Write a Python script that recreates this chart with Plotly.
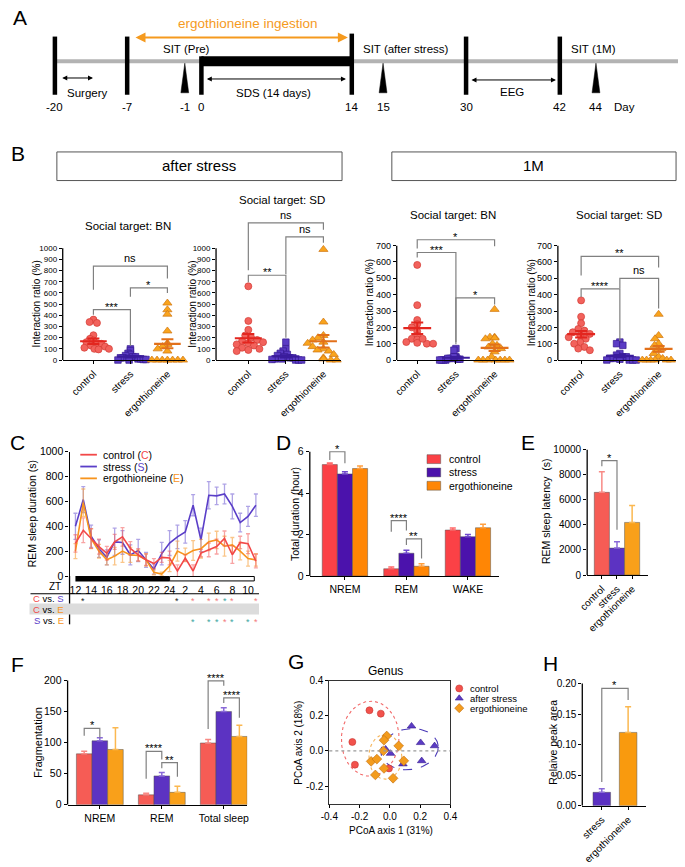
import numpy as np
import plotly.graph_objects as go

W, H = 685, 867
FONT = "Liberation Sans, Arial, Helvetica, sans-serif"

# ============================ DATA ============================
groups = ["control", "stress", "ergothioneine"]

# ---- Panel A: timeline ----
timeline_days = ["-20", "-7", "-1", "0", "14", "15", "30", "42", "44"]

# ---- Panel B: interaction ratio (%) per animal ----
b1_control = [362, 340, 332, 222, 190, 175, 160, 150, 145, 130, 120, 110, 100, 100, 95]
b1_stress = [100, 85, 60, 50, 40, 30, 30, 20, 20, 10, 10, 5, 5, 0, 0]
b1_ergo = [510, 450, 410, 260, 150, 140, 120, 100, 80, 0, 0, 0, 0, 0, 0, 0]
b1_mean = [168, 30, 145]
b1_sem = [25, 8, 40]

b2_control = [660, 350, 270, 220, 200, 180, 170, 160, 150, 140, 130, 110, 100, 90, 80]
b2_stress = [160, 100, 80, 60, 50, 40, 30, 20, 20, 10, 10, 5, 0, 0, 0]
b2_ergo = [990, 340, 220, 200, 180, 160, 150, 120, 100, 90, 80, 50, 20, 10, 0, 0]
b2_mean = [195, 32, 168]
b2_sem = [38, 10, 55]

b3_control = [582, 336, 245, 220, 200, 175, 150, 130, 125, 110, 105, 100, 100, 130]
b3_stress = [70, 60, 20, 15, 10, 10, 5, 5, 0, 0, 0, 0, 20, 10]
b3_ergo = [310, 140, 140, 135, 130, 100, 90, 80, 70, 50, 20, 0, 0, 0, 0, 0, 0, 0]
b3_mean = [195, 14, 75]
b3_sem = [35, 5, 20]

b4_control = [365, 265, 225, 190, 180, 170, 160, 150, 140, 130, 110, 100, 80, 70, 60]
b4_stress = [110, 100, 90, 40, 30, 20, 20, 10, 10, 5, 0, 0, 0, 0]
b4_ergo = [280, 150, 130, 100, 90, 70, 60, 40, 20, 10, 0, 0, 0, 0, 0, 0]
b4_mean = [158, 25, 68]
b4_sem = [20, 8, 18]

# significance brackets: (group i, group j, top, leg i end, leg j end, label)
b1_sig = [(0, 2, 841, 630, 729, "ns"), (1, 2, 646, 566, 600, "*"), (0, 1, 451, 405, 126, "***")]
b2_sig = [(0, 2, 1227, 803, 1165, "ns"), (1, 2, 1103, 768, 1050, "ns"), (0, 1, 759, 697, 200, "**")]
b3_sig = [(0, 2, 736, 682, 696, "*"), (0, 1, 658, 627, 97, "***"), (1, 2, 380, 110, 340, "*")]
b4_sig = [(0, 2, 634, 518, 567, "**"), (1, 2, 500, 440, 316, "ns"), (0, 1, 435, 386, 116, "****")]

# ---- Panel C: REM sleep duration (s) per hour ----
zt = [12, 13, 14, 15, 16, 17, 18, 19, 20, 21, 22, 23, 24, 25, 26, 27, 28, 29, 30, 31, 32, 33, 34, 35]
zt_tickvals = [12, 14, 16, 18, 20, 22, 24, 26, 28, 30, 32, 34]
zt_ticktext = ["12", "14", "16", "18", "20", "22", "24", "2", "4", "6", "8", "10"]
c_control = [262, 368, 302, 236, 183, 275, 315, 222, 171, 131, 100, 150, 145, 40, 145, 40, 185, 210, 237, 302, 171, 270, 260, 120]
c_control_sem = [70, 100, 80, 60, 55, 60, 75, 55, 50, 45, 40, 40, 55, 50, 25, 50, 30, 55, 60, 60, 70, 50, 80, 55]
c_stress = [400, 615, 320, 220, 150, 275, 270, 170, 205, 130, 55, 180, 265, 315, 355, 570, 290, 650, 645, 660, 560, 430, 480, 570]
c_stress_sem = [105, 105, 90, 70, 60, 110, 95, 80, 90, 60, 40, 90, 100, 95, 90, 85, 95, 110, 70, 80, 100, 75, 80, 90]
c_ergo = [200, 590, 300, 200, 130, 160, 200, 170, 165, 130, 30, 15, 80, 200, 170, 205, 220, 275, 290, 240, 250, 200, 140, 130]
c_ergo_sem = [60, 110, 80, 55, 40, 70, 90, 60, 45, 50, 20, 15, 45, 80, 55, 80, 75, 70, 70, 80, 60, 70, 60, 50]
cs_sig_zt = [13, 25, 27, 29, 30, 31, 32, 35]
cs_sig_kind = ["k", "k", "r", "r", "r", "t", "r", "r"]
se_sig_zt = [27, 29, 30, 31, 32, 34, 35]
se_sig_kind = ["t", "t", "t", "r", "t", "t", "r"]

# ---- Panel D: total duration (hour) ----
d_categories = ["NREM", "REM", "WAKE"]
d_control = [5.38, 0.35, 2.22]
d_control_err = [0.08, 0.08, 0.10]
d_stress = [4.93, 1.10, 1.90]
d_stress_err = [0.10, 0.14, 0.10]
d_ergo = [5.19, 0.47, 2.33]
d_ergo_err = [0.12, 0.12, 0.17]
d_sig = [(0, 0, 1, 6.0, 5.6, 5.44, "*"), (1, 0, 1, 2.67, 2.14, 2.2, "****"), (1, 1, 2, 1.79, 1.5, 0.85, "**")]

# ---- Panel E: REM sleep latency (s) ----
e_latency = [6600, 2150, 4200]
e_err = [1650, 500, 1350]
e_sig = [(0, 1, 9134, 8690, 3620, "*")]

# ---- Panel F: fragmentation ----
f_categories = ["NREM", "REM", "Total sleep"]
f_control = [82, 16, 99.5]
f_control_err = [4, 2.5, 5.5]
f_stress = [103, 46.5, 150]
f_stress_err = [5, 5.5, 6]
f_ergo = [89, 20, 110]
f_ergo_err = [35, 10, 18]
f_sig = [(0, 0, 1, 123, 111, 108, "*"), (1, 0, 1, 86, 42, 73, "****"), (1, 1, 2, 68, 59, 45, "**"),
         (2, 0, 1, 199.5, 122, 191.5, "****"), (2, 1, 2, 172, 164, 140, "****")]

# ---- Panel G: PCoA (genus) ----
g_control_x = [-0.135, -0.06, -0.248, -0.231, -0.006]
g_control_y = [0.231, 0.212, 0.051, -0.078, -0.099]
g_stress_x = [0.143, 0.203, 0.295, 0.21, -0.028, 0.004, 0.086]
g_stress_y = [0.141, 0.047, 0.029, -0.056, 0.01, -0.014, -0.074]
g_ergo_x = [-0.021, -0.039, 0.058, -0.043, -0.124, -0.086, 0.092, -0.039, -0.096, 0.021]
g_ergo_y = [0.085, 0.061, 0.029, 0.001, -0.059, -0.046, -0.056, -0.099, -0.136, -0.155]
g_ell_cx = [-0.13, 0.13, -0.03]
g_ell_cy = [0.07, 0.01, -0.033]
g_ell_rx = [0.19, 0.19, 0.109]
g_ell_ry = [0.213, 0.116, 0.127]
g_ell_angle = [-0.1, 0.1, 0.0]
g_legend = ["control", "after stress", "ergothioneine"]

# ---- Panel H: relative peak area ----
h_groups = ["stress", "ergothioneine"]
h_area = [0.022, 0.12]
h_err = [0.006, 0.042]
h_sig = [(0, 1, 0.192, 0.039, 0.173, "*")]

# ============================ HELPERS ============================
fig = go.Figure()
shapes, annotations, axes = [], [], {}


def dom_x(l, r):
    return [max(0.0, l / W), min(1.0, r / W)]


def dom_y(t, b):
    return [max(0.0, 1 - b / H), min(1.0, 1 - t / H)]


def add_axes(n, xl, xr, yt, yb, xrange, yrange, xkw=None, ykw=None):
    sx = "" if n == 1 else str(n)
    base = dict(showgrid=False, zeroline=False, fixedrange=True, type="linear",
                linecolor="black", linewidth=1.3, tickcolor="black", tickwidth=1.2,
                tickfont=dict(family=FONT, size=10, color="black"))
    xa = dict(base)
    xa.update(domain=dom_x(xl, xr), range=xrange, anchor="y" + sx)
    ya = dict(base)
    ya.update(domain=dom_y(yt, yb), range=yrange, anchor="x" + sx)
    if xkw:
        xa.update(xkw)
    if ykw:
        ya.update(ykw)
    axes["xaxis" + sx] = xa
    axes["yaxis" + sx] = ya
    return "x" + sx, "y" + sx


def txt(x, y, s, size=10, color="black", xanchor="center", yanchor="middle", angle=0,
        xref="x", yref="y", yshift=0):
    annotations.append(dict(x=x, y=y, xref=xref, yref=yref, text=s, showarrow=False,
                            font=dict(family=FONT, size=size, color=color),
                            xanchor=xanchor, yanchor=yanchor, textangle=angle,
                            yshift=yshift, borderpad=0))


def line(x0, y0, x1, y1, color="black", width=1.0, xref="x", yref="y", dash="solid"):
    shapes.append(dict(type="line", x0=x0, y0=y0, x1=x1, y1=y1, xref=xref, yref=yref,
                       line=dict(color=color, width=width, dash=dash)))


def rect(x0, y0, x1, y1, fill, lcolor=None, lwidth=0, xref="x", yref="y"):
    shapes.append(dict(type="rect", x0=x0, y0=y0, x1=x1, y1=y1, xref=xref, yref=yref,
                       fillcolor=fill, line=dict(color=lcolor or fill, width=lwidth)))


def spine(xid, yid, ymax):
    shapes.append(dict(type="line", xref=xid + " domain", yref=yid, x0=0, x1=0, y0=0, y1=ymax,
                       line=dict(color="black", width=1.3)))


def bracket(xid, yid, x0, x1, ytop, yl0, yl1, label, size=11):
    shapes.append(dict(type="path", xref=xid, yref=yid,
                       path=f"M{x0},{yl0} L{x0},{ytop} L{x1},{ytop} L{x1},{yl1}",
                       line=dict(color="#808080", width=1.2)))
    star = label.startswith("*")
    txt((x0 + x1) / 2, ytop, label, size=size, xref=xid, yref=yid, yanchor="bottom",
        yshift=-4 if star else 1)


def swarm_offsets(values, ppu, ppc, d, limit):
    vals = np.asarray(values, float)
    order = np.argsort(-vals, kind="stable")
    placed = []
    xs = np.zeros(len(vals))
    for i in order:
        y = vals[i] * ppu
        cands = [0.0]
        for (px, py) in placed:
            dy = abs(py - y)
            if dy < d:
                dx = np.sqrt(d * d - dy * dy)
                cands += [px + dx, px - dx]
        cands = sorted(set(np.round(cands, 5)), key=lambda c: (abs(c), c))
        for c in cands:
            if all((c - px) ** 2 + (y - py) ** 2 >= d * d - 1e-6 for px, py in placed):
                xs[i] = c
                break
        placed.append((xs[i], y))
    xs = xs / ppc
    m = np.max(np.abs(xs)) if len(xs) else 0
    if m > limit:
        xs = xs * limit / m
    return xs


TICKF = lambda s: dict(family=FONT, size=s, color="black")

# overlay axis in pixel coordinates (used for panel A and labels)
add_axes(1, 0, W, 0, H, [0, W], [H, 0], xkw=dict(visible=False), ykw=dict(visible=False))

# ============================ PANEL A ============================
DAY_X = [47, 121, 180, 197, 351, 383, 468, 564, 601]
line(48, 56, 685, 56, color="#b3b3b3", width=4)
rect(197, 51, 351, 61, "black")
for xb, (ya, yb) in zip([47, 121, 197, 351, 468, 564],
                         [(31, 90), (31, 90), (51, 90), (28, 90), (31, 90), (31, 90)]):
    line(xb, ya, xb, yb, width=4.5)
for k in (2, 5, 8):
    xt = DAY_X[k]
    shapes.append(dict(type="path", xref="x", yref="y",
                       path=f"M{xt - 4},88 L{xt},58 L{xt + 4},88 Z",
                       fillcolor="black", line=dict(color="black", width=0.5)))


def darrow(x0, x1, y, color="black", width=1.0, head=2, size=1.0):
    annotations.append(dict(x=x1, y=y, ax=x0, ay=y, xref="x", yref="y", axref="x", ayref="y",
                            text="", showarrow=True, arrowside="end+start", arrowhead=head,
                            arrowsize=size, arrowwidth=width, arrowcolor=color,
                            standoff=0, startstandoff=0))


darrow(128, 347, 32, color="#f59a1e", width=2, head=2, size=1.0)
darrow(53, 86, 73)
darrow(201, 345, 74)
darrow(472, 560, 75)
txt(245, 18, "ergothioneine ingestion", size=13.5, color="#f59a1e")
txt(182, 44, "SIT (Pre)", size=11.5)
txt(406, 44, "SIT (after stress)", size=11.5)
txt(598, 44, "SIT (1M)", size=11.5)
txt(80, 88, "Surgery", size=11.5)
txt(271, 88, "SDS (14 days)", size=11.5)
txt(515, 87, "EEG", size=11.5)
for lab, xd in zip(timeline_days, DAY_X):
    txt(xd, 102, lab, size=11.5)
txt(630, 102, "Day", size=11.5)

# panel letters
for letter, (lx, ly) in zip("ABCDEFGH", [(11, 12), (9, 150), (9, 443), (281, 443), (531, 443),
                                          (9, 668), (294, 665), (554, 667)]):
    txt(lx, ly, letter, size=21)

# ============================ PANEL B ============================
rect(49, 148, 341, 177, "rgba(0,0,0,0)", lcolor="#555555", lwidth=1)
rect(392, 148, 683, 177, "rgba(0,0,0,0)", lcolor="#555555", lwidth=1)
txt(195, 162, "after stress", size=15)
txt(537, 162, "1M", size=15)

MK = [dict(symbol="circle", size=7, color="#f2625c", line=dict(color="#d23b34", width=0.7)),
      dict(symbol="square", size=6.5, color="#5b3cc4", line=dict(color="#35198f", width=0.7)),
      dict(symbol="triangle-up", size=8, color="#f9a41d", line=dict(color="#cf7612", width=0.7))]
MEANC = ["#e3261f", "#3b1c9c", "#e2701a"]


def b_panel(n, xl, xr, y0px, ppu, xrange, ytop, tickmax, vals, means, sems, sig, title, tpos,
            ytitle_x, tfont):
    yt = y0px - ytop * ppu
    xid, yid = add_axes(n, xl, xr, yt, y0px, xrange, [0, ytop],
                        xkw=dict(showline=True, ticks="outside", ticklen=3, tickvals=[0, 1, 2],
                                 ticktext=groups, tickangle=-45, tickfont=TICKF(10)),
                        ykw=dict(showline=False, ticks="outside", ticklen=3,
                                 tickvals=list(range(0, tickmax + 1, 100)), tickfont=TICKF(tfont)))
    spine(xid, yid, tickmax)
    ppc = (xr - xl) / (xrange[1] - xrange[0])
    for k in range(3):
        off = swarm_offsets(vals[k], ppu, ppc, 6.5, 0.42)
        fig.add_trace(go.Scatter(x=[k + o for o in off], y=vals[k], mode="markers", marker=MK[k],
                                 cliponaxis=False, xaxis=xid, yaxis=yid, showlegend=False,
                                 hoverinfo="skip"))
    for k in range(3):
        fig.add_trace(go.Scatter(x=[k], y=[means[k]], mode="markers",
                                 marker=dict(size=1, color="rgba(0,0,0,0)"),
                                 error_x=dict(type="constant", value=0.36, color=MEANC[k],
                                              thickness=2.2, width=0),
                                 error_y=dict(type="constant", value=sems[k], color=MEANC[k],
                                              thickness=2, width=6),
                                 cliponaxis=False, xaxis=xid, yaxis=yid, showlegend=False,
                                 hoverinfo="skip"))
    for (i, j, top, l0, l1, lab) in sig:
        bracket(xid, yid, i, j, top, l0, l1, lab)
    txt(tpos[0], tpos[1], title, size=11.5)
    txt(ytitle_x, y0px - tickmax * ppu / 2, "Interaction ratio (%)", size=10, angle=-90)


b_panel(2, 55, 180, 359, 0.1133, [-0.83, 2.47], 1050, 1000,
        [b1_control, b1_stress, b1_ergo], b1_mean, b1_sem, b1_sig, "Social target: BN", (122, 223), 28, 8)
b_panel(3, 212, 340, 359, 0.1133, [-0.86, 2.47], 1330, 1000,
        [b2_control, b2_stress, b2_ergo], b2_mean, b2_sem, b2_sig, "Social target: SD", (280, 197), 188, 8)
b_panel(4, 397, 517, 359, 0.1657, [-0.53, 2.5], 790, 700,
        [b3_control, b3_stress, b3_ergo], b3_mean, b3_sem, b3_sig, "Social target: BN", (455, 212), 369, 9)
b_panel(5, 562, 683, 359, 0.1657, [-0.6, 2.45], 720, 700,
        [b4_control, b4_stress, b4_ergo], b4_mean, b4_sem, b4_sig, "Social target: SD", (625, 212), 535, 9)

# ============================ PANEL C ============================
xc, yc = add_axes(6, 62, 256, 452, 578, [11.25, 35.4], [0, 1000],
                  xkw=dict(showline=False, ticks="", tickvals=zt_tickvals, ticktext=zt_ticktext,
                           tickfont=TICKF(10.5), ticklabelstandoff=6),
                  ykw=dict(showline=True, ticks="outside", ticklen=3,
                           tickvals=[0, 200, 400, 600, 800, 1000], tickfont=TICKF(10.5)))
CC = {"control": "#f24848", "stress": "#5a3ec8", "ergo": "#f7941d"}
CE = {"control": "rgba(242,90,90,0.55)", "stress": "rgba(110,90,210,0.55)", "ergo": "rgba(247,160,60,0.6)"}
for key, v, e in [("stress", c_stress, c_stress_sem), ("ergo", c_ergo, c_ergo_sem),
                  ("control", c_control, c_control_sem)]:
    fig.add_trace(go.Scatter(x=zt, y=v, mode="lines", line=dict(color=CC[key], width=1.6),
                             error_y=dict(type="data", array=e, color=CE[key], thickness=1.3, width=2),
                             xaxis=xc, yaxis=yc, showlegend=False, hoverinfo="skip", cliponaxis=False))
# light/dark bar
rect(12, 578, 24, 583.5, "black", xref=xc, yref="y")
rect(24, 578.5, 34.8, 583, "white", lcolor="black", lwidth=1, xref=xc, yref="y")
txt(23, 515, "REM sleep duration (s)", size=10.5, angle=-90)
# legend
for k, (key, lab) in enumerate([("control", "control (<span style='color:#f24848'>C</span>)"),
                                ("stress", "stress (<span style='color:#5a3ec8'>S</span>)"),
                                ("ergo", "ergothioneine (<span style='color:#f7941d'>E</span>)")]):
    line(73, 455 + 12 * k, 90, 455 + 12 * k, color=CC[key], width=1.8)
    txt(95, 455 + 12 * k, lab, size=10.5, xanchor="left")
# table
line(62, 578, 62, 627, width=1.3)
line(22, 596, 256, 596, width=1)
rect(21, 606, 256, 617, "#dcdcdc")
txt(47, 589, "ZT", size=10)
txt(57, 601, "<span style='color:#f24848'>C</span> vs. <span style='color:#5a3ec8'>S</span>", size=9.5, xanchor="right")
txt(57, 612, "<span style='color:#f24848'>C</span> vs. <span style='color:#f7941d'>E</span>", size=9.5, xanchor="right")
txt(57, 623, "<span style='color:#5a3ec8'>S</span> vs. <span style='color:#f7941d'>E</span>", size=9.5, xanchor="right")
STARC = {"k": "#222222", "r": "#f37a7a", "t": "#3aa6a0"}
for zz, kk in zip(cs_sig_zt, cs_sig_kind):
    txt(zz, 603, "*", size=9, color=STARC[kk], xref=xc, yref="y")
for zz, kk in zip(se_sig_zt, se_sig_kind):
    txt(zz, 625, "*", size=9, color=STARC[kk], xref=xc, yref="y")

# ============================ PANEL D ============================
DC = ["#fb4146", "#4b12ac", "#ff8605"]
DEC = ["#ff6a6a", "#7048cc", "#ffa040"]
bw_d = 0.246
xd, yd = add_axes(7, 308, 502, 578 - 6.5 * 21, 578, [-0.571, 2.51], [0, 6.5],
                  xkw=dict(showline=True, ticks="outside", ticklen=3, tickvals=[0, 1, 2],
                           ticktext=d_categories, tickfont=TICKF(10.5)),
                  ykw=dict(showline=False, ticks="outside", ticklen=3, tickvals=[0, 2, 4, 6],
                           tickfont=TICKF(10.5)))
spine(xd, yd, 6)
for k, (v, e) in enumerate([(d_control, d_control_err), (d_stress, d_stress_err), (d_ergo, d_ergo_err)]):
    fig.add_trace(go.Bar(x=[i + (k - 1) * bw_d for i in range(3)], y=v, width=bw_d,
                         marker=dict(color=DC[k], line=dict(color="rgba(80,80,80,0.6)", width=0.8)),
                         error_y=dict(type="data", array=e, arrayminus=[0, 0, 0], symmetric=False,
                                      color=DEC[k], thickness=1.5, width=3),
                         xaxis=xd, yaxis=yd, showlegend=False, hoverinfo="skip"))
for (g, i, j, top, l0, l1, lab) in d_sig:
    bracket(xd, yd, g + (i - 1) * bw_d, g + (j - 1) * bw_d, top, l0, l1, lab)
txt(293, 515, "Total duration (hour)", size=10.5, angle=-90)
for k, lab in enumerate(groups):
    rect(428, 455 + 13.5 * k, 442, 464 + 13.5 * k, DC[k], lcolor="rgba(80,80,80,0.6)", lwidth=0.8)
    txt(449, 459.5 + 13.5 * k, lab, size=10.5, xanchor="left")

# ============================ PANEL E ============================
EC = ["#f65c55", "#5c33c2", "#f9a01a"]
EEC = ["#f88a85", "#8a6ad8", "#fbb850"]
xe, ye = add_axes(8, 592, 654, 577 - 10300 * 0.0127, 577, [-0.97, 3.03], [0, 10300],
                  xkw=dict(showline=True, ticks="outside", ticklen=3, tickvals=[0, 1, 2],
                           ticktext=groups, tickangle=-45, tickfont=TICKF(10)),
                  ykw=dict(showline=False, ticks="outside", ticklen=3,
                           tickvals=[0, 2000, 4000, 6000, 8000, 10000],
                           ticktext=["0", "2000", "4000", "6000", "8000", "10000"], tickfont=TICKF(10)))
spine(xe, ye, 10000)
for k in range(3):
    fig.add_trace(go.Bar(x=[k], y=[e_latency[k]], width=1.0,
                         marker=dict(color=EC[k], line=dict(color="rgba(80,80,80,0.6)", width=0.8)),
                         error_y=dict(type="data", array=[e_err[k]], arrayminus=[0], symmetric=False,
                                      color=EEC[k], thickness=1.5, width=3),
                         xaxis=xe, yaxis=ye, showlegend=False, hoverinfo="skip"))
for (i, j, top, l0, l1, lab) in e_sig:
    bracket(xe, ye, i, j, top, l0, l1, lab)
txt(550, 512, "REM sleep latency  (s)", size=10.5, angle=-90)

# ============================ PANEL F ============================
bw_f = 0.252
xf, yf = add_axes(9, 60, 244, 810 - 215 * 0.63, 810, [-0.52, 2.38], [0, 215],
                  xkw=dict(showline=True, ticks="outside", ticklen=3, tickvals=[0, 1, 2],
                           ticktext=f_categories, tickfont=TICKF(10.5)),
                  ykw=dict(showline=False, ticks="outside", ticklen=3,
                           tickvals=[0, 50, 100, 150, 200], tickfont=TICKF(10.5)))
spine(xf, yf, 200)
for k, (v, e) in enumerate([(f_control, f_control_err), (f_stress, f_stress_err), (f_ergo, f_ergo_err)]):
    fig.add_trace(go.Bar(x=[i + (k - 1) * bw_f for i in range(3)], y=v, width=bw_f,
                         marker=dict(color=EC[k], line=dict(color="rgba(80,80,80,0.6)", width=0.8)),
                         error_y=dict(type="data", array=e, arrayminus=[0, 0, 0], symmetric=False,
                                      color=EEC[k], thickness=1.5, width=3),
                         xaxis=xf, yaxis=yf, showlegend=False, hoverinfo="skip"))
for (g, i, j, top, l0, l1, lab) in f_sig:
    bracket(xf, yf, g + (i - 1) * bw_f, g + (j - 1) * bw_f, top, l0, l1, lab)
txt(29, 747, "Fragmentation", size=11, angle=-90)

# ============================ PANEL G ============================
xg, yg = add_axes(10, 328, 452, 684, 809, [-0.4, 0.4], [-0.3, 0.4],
                  xkw=dict(showline=True, mirror=True, linewidth=1, linecolor="#333333",
                           ticks="outside", ticklen=3, tickvals=[-0.4, -0.2, 0, 0.2, 0.4],
                           ticktext=["-0.4", "-0.2", "0.0", "0.2", "0.4"], tickfont=TICKF(10)),
                  ykw=dict(showline=True, mirror=True, linewidth=1, linecolor="#333333",
                           ticks="outside", ticklen=3, tickvals=[-0.2, 0, 0.2, 0.4],
                           ticktext=["-0.2", "0.0", "0.2", "0.4"], tickfont=TICKF(10)))
shapes.append(dict(type="line", xref=xg + " domain", yref=yg, x0=0, x1=1, y0=0, y1=0,
                   line=dict(color="#9a9a9a", width=1.2, dash="dot")))
GC = ["#f2524c", "#5b3cc4", "#f39c1e"]
GL = ["#c83530", "#35198f", "#c06d10"]
ELL_DASH = ["dot", "dash", "dot"]
ELL_C = ["#f26a6a", "#4b3ab8", "#f5b45a"]
tt = np.linspace(0, 2 * np.pi, 120)
for k in range(3):
    ex = g_ell_rx[k] * np.cos(tt)
    ey = g_ell_ry[k] * np.sin(tt)
    a = g_ell_angle[k]
    fig.add_trace(go.Scatter(x=g_ell_cx[k] + ex * np.cos(a) - ey * np.sin(a),
                             y=g_ell_cy[k] + ex * np.sin(a) + ey * np.cos(a), mode="lines",
                             line=dict(color=ELL_C[k], width=1.1, dash=ELL_DASH[k]),
                             xaxis=xg, yaxis=yg, showlegend=False, hoverinfo="skip"))
GSYM = ["circle", "triangle-up", "diamond"]
for k, (gx, gy) in enumerate([(g_control_x, g_control_y), (g_stress_x, g_stress_y), (g_ergo_x, g_ergo_y)]):
    fig.add_trace(go.Scatter(x=gx, y=gy, mode="markers",
                             marker=dict(symbol=GSYM[k], size=7.5 if k else 7, color=GC[k],
                                         line=dict(color=GL[k], width=0.6)),
                             xaxis=xg, yaxis=yg, showlegend=False, hoverinfo="skip"))
txt(386, 674, "Genus", size=12)
txt(391, 836, "PCoA axis 1 (31%)", size=10)
txt(297, 747, "PCoA axis 2 (18%)", size=10, angle=-90)
for k, lab in enumerate(g_legend):
    fig.add_trace(go.Scatter(x=[461], y=[692 + 10 * k], mode="markers",
                             marker=dict(symbol=GSYM[k], size=7, color=GC[k],
                                         line=dict(color=GL[k], width=0.6)),
                             xaxis="x", yaxis="y", showlegend=False, hoverinfo="skip"))
    txt(471, 692 + 10 * k, lab, size=9.5, xanchor="left")

# ============================ PANEL H ============================
HC = ["#5b30c2", "#f99a0e"]
HEC = ["#8a6ad8", "#fbb850"]
xh, yh = add_axes(11, 587, 652, 811 - 0.21 * 620, 811, [-0.74, 1.67], [0, 0.21],
                  xkw=dict(showline=True, ticks="outside", ticklen=3, tickvals=[0, 1],
                           ticktext=h_groups, tickangle=-45, tickfont=TICKF(10)),
                  ykw=dict(showline=False, ticks="outside", ticklen=3,
                           tickvals=[0, 0.05, 0.1, 0.15, 0.2],
                           ticktext=["0.00", "0.05", "0.10", "0.15", "0.20"], tickfont=TICKF(10)))
spine(xh, yh, 0.2)
for k in range(2):
    fig.add_trace(go.Bar(x=[k], y=[h_area[k]], width=0.667,
                         marker=dict(color=HC[k], line=dict(color="rgba(80,80,80,0.6)", width=0.8)),
                         error_y=dict(type="data", array=[h_err[k]], arrayminus=[0], symmetric=False,
                                      color=HEC[k], thickness=1.5, width=3),
                         xaxis=xh, yaxis=yh, showlegend=False, hoverinfo="skip"))
for (i, j, top, l0, l1, lab) in h_sig:
    bracket(xh, yh, i, j, top, l0, l1, lab)
txt(557, 746, "Relaive peak area", size=10.5, angle=-90)

# ============================ LAYOUT ============================
fig.update_layout(width=W, height=H, margin=dict(l=0, r=0, t=0, b=0),
                  paper_bgcolor="#ffffff", plot_bgcolor="#ffffff", barmode="overlay",
                  font=dict(family=FONT, size=10, color="black"), showlegend=False,
                  shapes=shapes, annotations=annotations, **axes)
fig.write_html("out.html", config={"displayModeBar": False},
               post_script="document.body.style.margin='0px';document.body.style.overflow='hidden';")
